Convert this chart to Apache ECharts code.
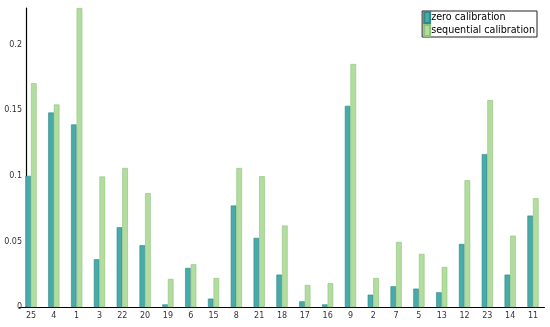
<!DOCTYPE html>
<html><head><meta charset="utf-8">
<script src="https://cdn.jsdelivr.net/npm/echarts@6/dist/echarts.min.js"></script>
<style>html,body{margin:0;padding:0;background:#fff}#c{width:550px;height:327px}</style>
</head><body><div id="c"></div>
<script>
const categories = ['25','4','1','3','22','20','19','6','15','8','21','18','17','16','9','2','7','5','13','12','23','14','11'];
const zeroCal = [0.100,0.1483,0.1392,0.0364,0.0608,0.0471,0.002,0.0298,0.0064,0.0774,0.0527,0.0247,0.0043,0.002,0.1534,0.0094,0.0158,0.014,0.0112,0.0481,0.1166,0.0247,0.0697];
const seqCal = [0.1707,0.1544,0.228,0.0995,0.106,0.0868,0.0214,0.0326,0.0221,0.106,0.0997,0.0621,0.0168,0.0181,0.1853,0.0221,0.0496,0.0405,0.0305,0.0967,0.1578,0.0544,0.083];
const yTicks = [0, 0.05, 0.1, 0.15, 0.2];
const seriesNames = ['zero calibration', 'sequential calibration'];

const chart = echarts.init(document.getElementById('c'), null, {renderer: 'canvas'});
const font = 'DejaVu Sans';
chart.setOption({
  animation: false,
  grid: {left: 19.6, right: 5.6, top: 8, bottom: 20},
  legend: {
    orient: 'vertical', right: 13, top: 11,
    icon: 'rect',
    itemWidth: 6, itemHeight: 11, itemGap: 0,
    padding: [0, 2, 0, 1],
    borderColor: '#222', borderWidth: 1, backgroundColor: '#fff',
    textStyle: {fontFamily: font, fontSize: 9.6, color: '#000', padding: [0, 0, 0, -4]},
    data: seriesNames
  },
  xAxis: {
    type: 'category', data: categories,
    axisLine: {lineStyle: {color: '#000', width: 1.2}},
    axisTick: {show: false},
    axisLabel: {fontFamily: font, fontSize: 8, color: '#333', margin: 5}
  },
  yAxis: {
    type: 'value', min: 0, max: 0.228, offset: -6.4,
    interval: 0.05,
    splitLine: {show: false},
    axisLine: {show: true, lineStyle: {color: '#000', width: 1.2}},
    axisTick: {show: false},
    axisLabel: {fontFamily: font, fontSize: 8, color: '#333', margin: 4,
      formatter: v => yTicks.indexOf(+v.toFixed(2)) >= 0 ? String(+v.toFixed(2)) : ''}
  },
  series: [
    {name: seriesNames[0], type: 'bar', data: zeroCal, barWidth: 5.6, barGap: '0%',
     itemStyle: {color: '#48aaa9', borderColor: '#2f8888', borderWidth: 0.6}},
    {name: seriesNames[1], type: 'bar', data: seqCal, barWidth: 5.6, barGap: '0%',
     itemStyle: {color: '#b3dd9f', borderColor: '#8cc27a', borderWidth: 0.6}}
  ]
});
</script></body></html>
